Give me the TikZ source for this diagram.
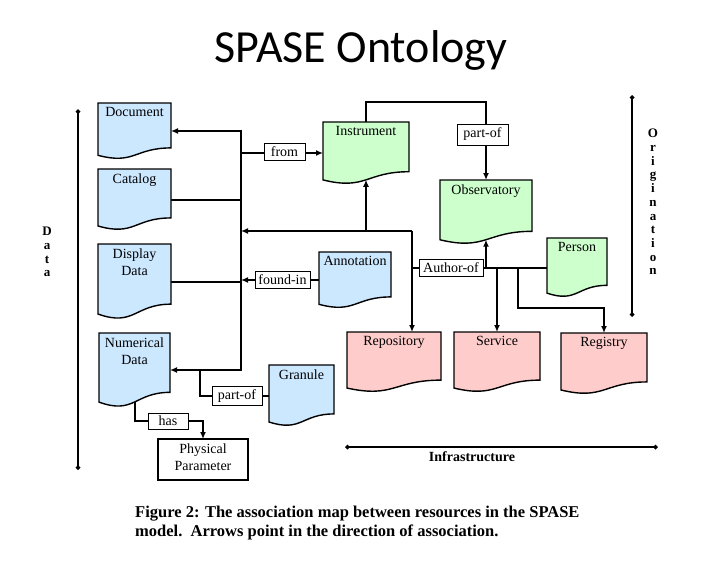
\documentclass[tikz,border=0pt]{standalone}
\usepackage{fontspec}
\setmainfont{Liberation Serif}
\newfontfamily\titlefont{Carlito}
\usetikzlibrary{calc,arrows.meta}
\pgfdeclarelayer{lines}
\pgfsetlayers{lines,main}
\definecolor{dblue}{HTML}{CCE8FF}
\definecolor{dgreen}{HTML}{CCFFCC}
\definecolor{dpink}{HTML}{FFCCCC}
\tikzset{
  box/.style={draw=none, inner sep=0pt, outer sep=0pt, anchor=north west},
  shapetxt/.style={anchor=north, inner sep=0pt, align=center, font=\fontsize{14}{17}\selectfont},
  docline/.style={line width=1.4pt, line join=miter},
  lab/.style={draw, line width=1pt, fill=white, inner sep=0pt, font=\fontsize{14}{16}\selectfont},
  conn/.style={line width=2pt},
  arr/.style={conn, -{Latex[length=7pt,width=6pt]}},
  axis/.style={line width=1.6pt, {Diamond[length=5pt,width=5pt]}-{Diamond[length=5pt,width=5pt]}},
  axtxt/.style={inner sep=0pt, align=center, font=\bfseries\fontsize{13}{13.7}\selectfont}
}
\newcommand\docnode[7]{%
  \node[box, minimum width=#4pt, minimum height=#5pt] (#1) at (#2,#3) {};
  \draw[docline, fill=#6] (#1.north west) -- (#1.north east)
    -- ($(#1.north east)!0.802!(#1.south east)$)
    .. controls ($(#1.north)!0.802!(#1.south)$) and ($(#1.north)!1.107!(#1.south)$)
    .. ($(#1.north west)!0.934!(#1.south west)$) -- cycle;
  \node[shapetxt] (#1T) at ([yshift=-4.5pt]#1.north) {#7};%
}
\begin{document}
\begin{tikzpicture}[x=1pt,y=-1pt]
\useasboundingbox (0,0) rectangle (721,568);

% title
\node[anchor=base, inner sep=0pt, font=\titlefont\fontsize{46}{50}\selectfont] (title) at (361,62) {SPASE Ontology};

% document shapes
\docnode{doc}{98}{103}{73}{56}{dblue}{Document}
\docnode{cat}{98}{169}{73}{61}{dblue}{Catalog}
\docnode{disp}{98}{244}{73}{75}{dblue}{Display\\Data}
\docnode{num}{99}{333}{71}{74}{dblue}{Numerical\\Data}
\docnode{gran}{269}{365}{65}{61}{dblue}{Granule}
\docnode{ann}{319}{252}{72}{56}{dblue}{Annotation}
\docnode{inst}{323}{122}{86}{62}{dgreen}{Instrument}
\docnode{obs}{440}{180}{92}{64}{dgreen}{Observatory}
\docnode{person}{547}{238}{60}{59}{dgreen}{Person}
\docnode{repo}{347}{332}{94}{60}{dpink}{Repository}
\docnode{serv}{454}{332}{86}{60}{dpink}{Service}
\docnode{reg}{561}{333}{86}{61}{dpink}{Registry}

\node[draw, line width=1.4pt, fill=white, anchor=north west, minimum width=90pt, minimum height=41pt,
      inner sep=0pt, outer sep=0pt] (phys) at (158,439) {};
\node[inner sep=0pt, align=center, font=\fontsize{14}{17}\selectfont] (physT) at ([yshift=2.5pt]phys.center) {Physical\\Parameter};

% connector labels
\node[lab, minimum width=41pt, minimum height=17pt] (fromL) at (284.5,152) {from};
\node[lab, minimum width=55pt, minimum height=17pt] (foundL) at (282.5,280) {found-in};
\node[lab, minimum width=51pt, minimum height=21pt] (poL) at (482.5,134.5) {part-of};
\node[lab, minimum width=64pt, minimum height=17pt] (authL) at (451,267.5) {Author-of};
\node[lab, minimum width=50pt, minimum height=19pt] (po2L) at (237,396) {part-of};
\node[lab, minimum width=40pt, minimum height=16pt] (hasL) at (168,421) {has};

% connectors
\coordinate (bx) at (241,0);
\coordinate (aj) at (412,231);
\coordinate (rj) at (518,308);
\coordinate (pt) at (0,102);
\coordinate (gj) at (200,0);
\begin{pgfonlayer}{lines}
\draw[conn, {Latex[length=7pt,width=6pt]}-{Latex[length=7pt,width=6pt]}]
  (doc.east) -- (doc.east -| bx) -- (num.east -| bx) -- (num.east);
\draw[conn] (cat.east) -- (cat.east -| bx);
\draw[conn] (disp.east) -- (disp.east -| bx);
\draw[arr] (ann.west) -- (ann.west -| bx);
\draw[arr] (inst.west -| bx) -- (inst.west);
\draw[arr] (aj) -- (aj -| bx);
\draw[arr] (aj -| inst.south) -- ($(inst.north)!0.933!(inst.south)$);
\draw[arr] (aj) -- (aj |- repo.north);
\draw[conn] (person.west) -- (person.west -| aj);
\draw[arr] (person.west -| obs.south) -- ($(obs.north)!0.933!(obs.south)$);
\draw[arr] (person.west -| serv.north) -- (serv.north);
\draw[arr] (rj |- person.west) -- (rj) -- (rj -| reg.north) -- (reg.north);
\draw[arr] (inst.north) -- (inst.north |- pt) -- (obs.north |- pt) -- (obs.north);
\draw[conn] (gran.west) -- (gran.west -| gj) -- (num.east -| gj);
\draw[arr] ($(num.north)!0.933!(num.south)$) |- (hasL.center) -| (phys.north);
\end{pgfonlayer}

% axes
\coordinate (dTop) at (78,109);
\coordinate (dBot) at (78,470);
\coordinate (oTop) at (632,95);
\coordinate (oBot) at (632,317);
\coordinate (iL) at (345,447);
\coordinate (iR) at (658,447);
\draw[axis] (dTop) -- (dBot);
\draw[axis] (oTop) -- (oBot);
\draw[axis] (iL) -- (iR);
\node[axtxt] (dataL) at (47,252) {D\\a\\t\\a};
\node[axtxt] (origL) at (653,202) {O\\r\\i\\g\\i\\n\\a\\t\\i\\o\\n};
\node[inner sep=0pt, font=\bfseries\fontsize{14}{16}\selectfont] (infL) at (472,457) {Infrastructure};

% caption
\node[anchor=north west, inner sep=0pt, align=left, font=\bfseries\fontsize{16.5}{19}\selectfont] (cap) at (135,506)
  {Figure 2: The association map between resources in the SPASE\\model.\ \ Arrows point in the direction of association.};
\end{tikzpicture}
\end{document}
